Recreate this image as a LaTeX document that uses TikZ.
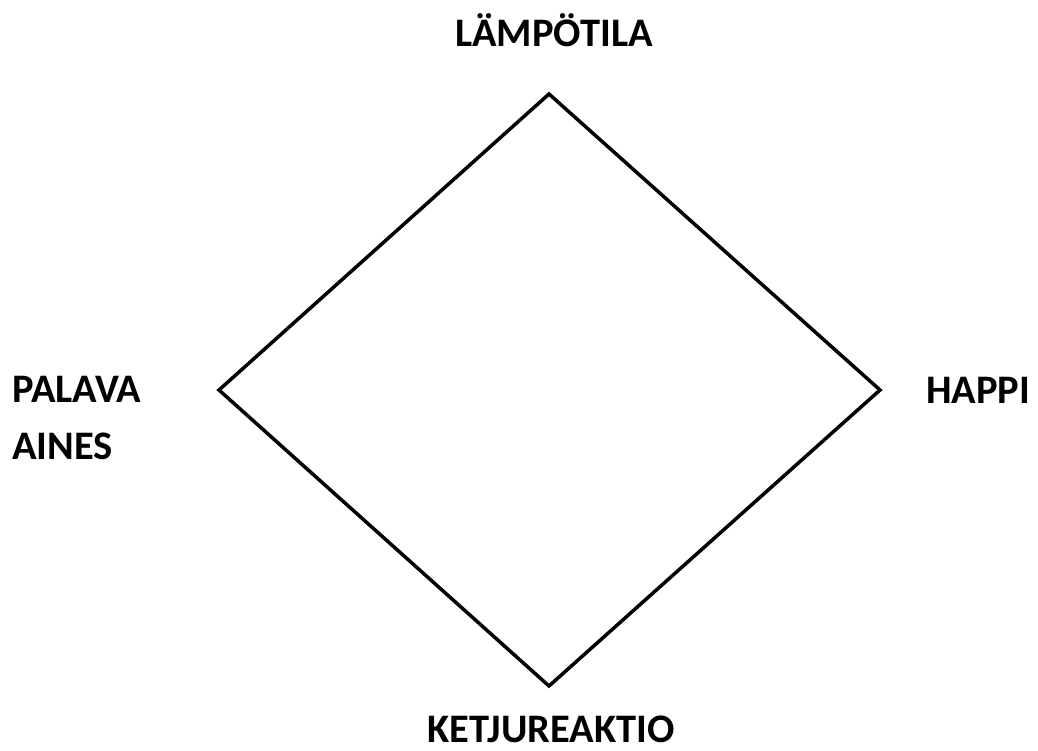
\documentclass[tikz,border=0pt]{standalone}
\usepackage{fontspec}
\setmainfont{Carlito}
\begin{document}
\begin{tikzpicture}[x=1pt,y=-1pt,
  lbl/.style={font=\fontsize{40.5}{57}\selectfont\bfseries, inner sep=0pt},
  edge/.style={line width=3.5pt, line join=miter}]
\useasboundingbox (0,0) rectangle (1038,751);
\coordinate (top) at (549,94);
\coordinate (right) at (880,390);
\coordinate (bottom) at (549,686);
\coordinate (left) at (219,390);
\draw[edge] (top) -- (right) -- (bottom) -- (left) -- cycle;
\node[lbl] (temp) at (554,30) {LÄMPÖTILA};
\node[lbl] (oxy) at (978,390) {HAPPI};
\node[lbl, anchor=west, align=left] (fuel) at (12,418) {PALAVA\\AINES};
\node[lbl] (chain) at (551,729) {KETJUREAKTIO};
\end{tikzpicture}
\end{document}
